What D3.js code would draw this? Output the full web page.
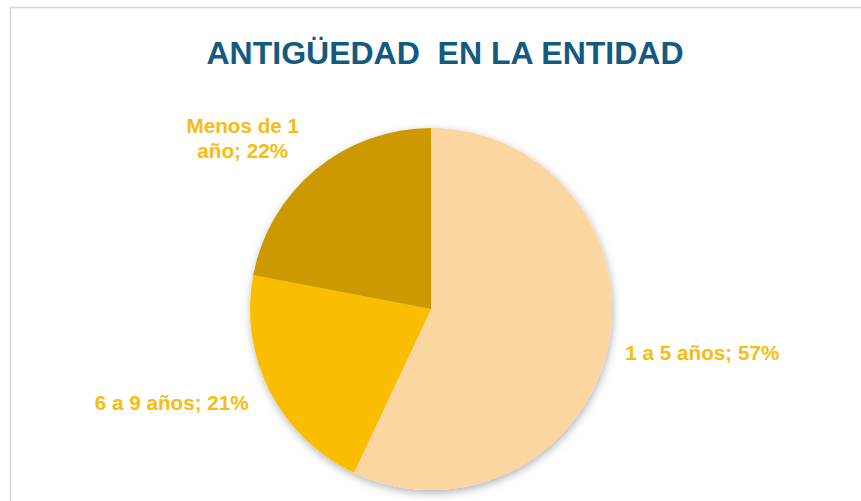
<!DOCTYPE html>
<html>
<head>
<meta charset="utf-8">
<script src="https://cdn.jsdelivr.net/npm/d3@7"></script>
<style>
  html, body { margin: 0; padding: 0; background: #ffffff; }
  svg { display: block; font-family: "Liberation Sans", Arial, sans-serif; }
</style>
</head>
<body>
<svg id="chart" width="861" height="501"></svg>
<script>
"use strict";

const categories = ["1 a 5 años", "6 a 9 años", "Menos de 1 año"];
const values = [57, 21, 22];
const labelLines = [["1 a 5 años; 57%"], ["6 a 9 años; 21%"], ["Menos de 1", "año; 22%"]];
const sliceColors = ["#fbd6a0", "#fabd00", "#cc9a00"];

const W = 861, H = 501;
const cx = 431, cy = 309, radius = 181;

const svg = d3.select("#chart");

// shadow under the pie
const defs = svg.append("defs");
defs.append("filter")
    .attr("id", "pieShadow")
    .attr("x", "-20%").attr("y", "-20%")
    .attr("width", "140%").attr("height", "140%")
  .append("feDropShadow")
    .attr("dx", 1).attr("dy", 3)
    .attr("stdDeviation", 4)
    .attr("flood-color", "#000")
    .attr("flood-opacity", 0.3);

// chart frame (runs off the right/bottom edge)
svg.append("rect")
    .attr("x", 10.5).attr("y", 7.5)
    .attr("width", W + 20).attr("height", H + 20)
    .attr("fill", "none")
    .attr("stroke", "#d6d6d6")
    .attr("stroke-width", 1.5);

svg.append("text")
    .attr("x", 445).attr("y", 64)
    .attr("text-anchor", "middle")
    .attr("font-size", 32)
    .attr("font-weight", "bold")
    .attr("fill", "#135a7f")
    .attr("xml:space", "preserve")
    .text("ANTIGÜEDAD  EN LA ENTIDAD");

const pie = d3.pie().sort(null).value(d => d)(values);
const arc = d3.arc().innerRadius(0).outerRadius(radius);

const g = svg.append("g").attr("transform", `translate(${cx},${cy})`);

g.append("g")
    .attr("filter", "url(#pieShadow)")
  .selectAll("path")
  .data(pie)
  .join("path")
    .attr("d", arc)
    .attr("fill", (d, i) => sliceColors[i]);

// label placement, per slice: radius factor and anchor
const labelRadius = [1.1, 1.13, 1.1];
const labelAnchor = ["start", "end", "block"];

pie.forEach((d, i) => {
    const a = (d.startAngle + d.endAngle) / 2;
    const r = radius * labelRadius[i];
    const px = Math.sin(a) * r;
    const py = -Math.cos(a) * r;
    const lines = labelLines[i];
    const lh = 25;
    const t = g.append("text")
        .attr("font-size", 20.7)
        .attr("font-weight", "bold")
        .attr("fill", "#f8bc10");
    lines.forEach((ln, j) => {
        t.append("tspan")
            .attr("dy", j === 0 ? 0 : lh)
            .text(ln);
    });
    if (labelAnchor[i] === "block") {
        let maxW = 0;
        t.selectAll("tspan").each(function() {
            maxW = Math.max(maxW, this.getComputedTextLength());
        });
        t.attr("text-anchor", "middle");
        t.selectAll("tspan").attr("x", px - maxW / 2 - 5);
        t.attr("y", py - (lines.length - 1) * lh / 2 - 10);
    } else {
        t.attr("text-anchor", labelAnchor[i]);
        t.selectAll("tspan").attr("x", px);
        t.attr("y", py + 8);
    }
});
</script>
</body>
</html>
